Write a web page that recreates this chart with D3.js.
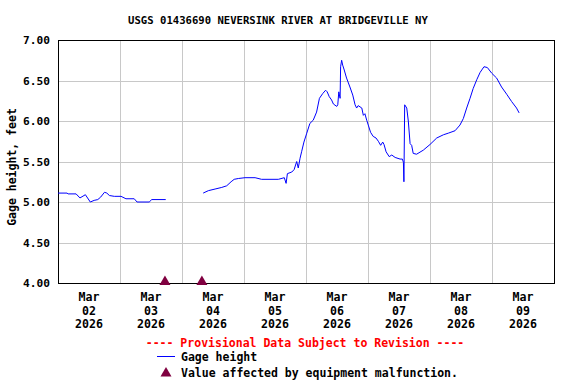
<!DOCTYPE html>
<html>
<head>
<meta charset="utf-8">
<script src="https://cdn.jsdelivr.net/npm/d3@7"></script>
<style>
  body { margin: 0; background: #fff; }
  svg { display: block; font-family: "DejaVu Sans Mono", monospace; font-weight: bold; }
</style>
</head>
<body>
<svg id="chart" width="576" height="384"></svg>
<script>
// hours since Mar 02 2026 00:00, null = gap in record
let hours = [0, 3.5, 3.9, 7.0, 8.5, 10.6, 12.5, 14.0, 15.4, 16.5, 18.0, 18.9, 19.9, 21.8, 24.4, 26.3, 29.5, 30.6, 35.3, 36.3, 41.7,
  null,
  56.2, 58.2, 60.8, 63.4, 65.3, 67.0, 68.2, 69.8, 72.4, 76.3, 78.8, 85.3, 87.6, 88.3, 88.8, 90.5, 91.4, 92.4, 93.0, 93.7, 94.3,
  95.2, 96.3, 97.5, 98.8, 100.1, 101.2, 102.5, 103.6, 104.2, 105.0, 105.9, 106.6, 107.9, 108.3, 108.7, 109.2, 109.4, 109.8,
  110.2, 110.8, 111.7, 113.0, 114.1, 115.0, 115.6, 116.2, 117.6, 118.2, 118.8, 119.5, 120.1, 121.0, 122.0, 123.1, 124.0,
  124.9, 125.7, 126.2, 127.0, 128.2, 129.2, 130.5, 132.4, 133.3, 133.7, 133.9, 134.2, 135.0, 135.6, 136.3, 136.9, 137.5,
  138.8, 141.4, 144.0, 146.6, 149.2, 151.1, 153.7, 155.6, 156.9, 158.2, 159.5, 160.7, 162.1, 163.4, 164.9, 166.2, 167.9,
  169.8, 171.7, 173.7, 175.6, 177.5, 178.5];
let gage = [5.11, 5.11, 5.10, 5.10, 5.05, 5.09, 5.00, 5.02, 5.03, 5.06, 5.12, 5.11, 5.08, 5.07, 5.07, 5.04, 5.04, 5.00, 5.00, 5.03, 5.03,
  null,
  5.11, 5.14, 5.16, 5.18, 5.20, 5.25, 5.28, 5.29, 5.30, 5.30, 5.28, 5.28, 5.30, 5.23, 5.35, 5.37, 5.40, 5.50, 5.42, 5.54, 5.62,
  5.74, 5.85, 5.97, 6.01, 6.11, 6.28, 6.34, 6.38, 6.36, 6.30, 6.26, 6.21, 6.18, 6.20, 6.36, 6.28, 6.67, 6.75,
  6.69, 6.63, 6.53, 6.42, 6.32, 6.20, 6.16, 6.19, 6.16, 6.07, 6.09, 6.01, 5.95, 5.86, 5.81, 5.79, 5.75,
  5.70, 5.74, 5.71, 5.62, 5.56, 5.58, 5.55, 5.53, 5.53, 5.49, 5.25, 6.20, 6.16, 6.00, 5.72, 5.70, 5.60,
  5.59, 5.64, 5.71, 5.79, 5.83, 5.85, 5.88, 5.95, 6.03, 6.16, 6.28, 6.40, 6.51, 6.60, 6.67, 6.66, 6.59,
  6.53, 6.42, 6.33, 6.24, 6.16, 6.10];
let malfunctionHours = [41.4, 55.7];
let yTicks = [4.0, 4.5, 5.0, 5.5, 6.0, 6.5, 7.0];
let dayLabels = ['02', '03', '04', '05', '06', '07', '08', '09'];

let start = new Date(2026, 2, 2);
let toDate = h => new Date(start.getTime() + h * 3600e3);

let margin = {left: 58, right: 554, top: 40, bottom: 283};
let svg = d3.select('#chart');

let x = d3.scaleTime()
  .domain([start, toDate(8 * 24)])
  .range([margin.left, margin.right]);
let y = d3.scaleLinear()
  .domain([4, 7])
  .range([margin.bottom, margin.top]);

svg.append('text')
  .attr('x', 278).attr('y', 24)
  .attr('text-anchor', 'middle')
  .style('font-size', '10.6px')
  .text('USGS 01436690 NEVERSINK RIVER AT BRIDGEVILLE NY');

// grid
let days = d3.range(1, 8).map(d => toDate(d * 24));
svg.append('g').selectAll('line.vgrid')
  .data(days).enter().append('line')
  .attr('x1', d => Math.round(x(d)) + 0.5).attr('x2', d => Math.round(x(d)) + 0.5)
  .attr('y1', margin.top).attr('y2', margin.bottom)
  .attr('stroke', '#c8c8c8').attr('shape-rendering', 'crispEdges');
svg.append('g').selectAll('line.hgrid')
  .data(yTicks.slice(1, -1)).enter().append('line')
  .attr('x1', margin.left).attr('x2', margin.right)
  .attr('y1', d => Math.round(y(d)) + 0.5).attr('y2', d => Math.round(y(d)) + 0.5)
  .attr('stroke', '#c8c8c8').attr('shape-rendering', 'crispEdges');

// frame
svg.append('rect')
  .attr('x', margin.left + 0.5).attr('y', margin.top + 0.5)
  .attr('width', margin.right - margin.left).attr('height', margin.bottom - margin.top)
  .attr('fill', 'none').attr('stroke', '#000').attr('shape-rendering', 'crispEdges');

// y labels
svg.append('g').selectAll('text')
  .data(yTicks).enter().append('text')
  .attr('x', 50).attr('y', d => y(d) + 4)
  .attr('text-anchor', 'end')
  .style('font-size', '11.2px')
  .text(d => d.toFixed(2));

svg.append('text')
  .attr('transform', 'translate(16,167) rotate(-90)')
  .attr('text-anchor', 'middle')
  .style('font-size', '11.5px')
  .text('Gage height, feet');

// x labels at noon
let xl = svg.append('g').selectAll('g')
  .data(dayLabels).enter().append('g')
  .attr('transform', (d, i) => `translate(${x(toDate(i * 24 + 12))},0)`);
xl.append('text').attr('y', 301).text('Mar');
xl.append('text').attr('y', 315).text(d => d);
xl.append('text').attr('y', 328).text('2026');
xl.selectAll('text').attr('text-anchor', 'middle').style('font-size', '11.6px');

// series
let pts = hours.map((h, i) => ({h: h, v: gage[i]}));
let line = d3.line()
  .defined(d => d.h != null && d.v != null)
  .x(d => x(toDate(d.h)))
  .y(d => y(d.v));
svg.append('path')
  .datum(pts)
  .attr('d', line)
  .attr('fill', 'none')
  .attr('stroke', '#0000ff')
  .attr('stroke-width', 1);

let tri = 'M0,-8L5.5,1.5L-5.5,1.5Z';
svg.append('g').selectAll('path')
  .data(malfunctionHours).enter().append('path')
  .attr('transform', d => `translate(${x(toDate(d))},${y(4) + 0.5})`)
  .attr('d', tri)
  .attr('fill', '#800040');

// legend
svg.append('text')
  .attr('x', 305).attr('y', 347)
  .attr('text-anchor', 'middle')
  .attr('fill', '#ff0000')
  .style('font-size', '11.5px')
  .text('---- Provisional Data Subject to Revision ----');
svg.append('line')
  .attr('x1', 157).attr('x2', 175).attr('y1', 356.5).attr('y2', 356.5)
  .attr('stroke', '#0000ff');
svg.append('text')
  .attr('x', 181).attr('y', 361)
  .style('font-size', '11.5px')
  .text('Gage height');
svg.append('path')
  .attr('transform', 'translate(166,375)')
  .attr('d', tri)
  .attr('fill', '#800040');
svg.append('text')
  .attr('x', 181).attr('y', 377)
  .style('font-size', '11.5px')
  .text('Value affected by equipment malfunction.');
</script>
</body>
</html>
